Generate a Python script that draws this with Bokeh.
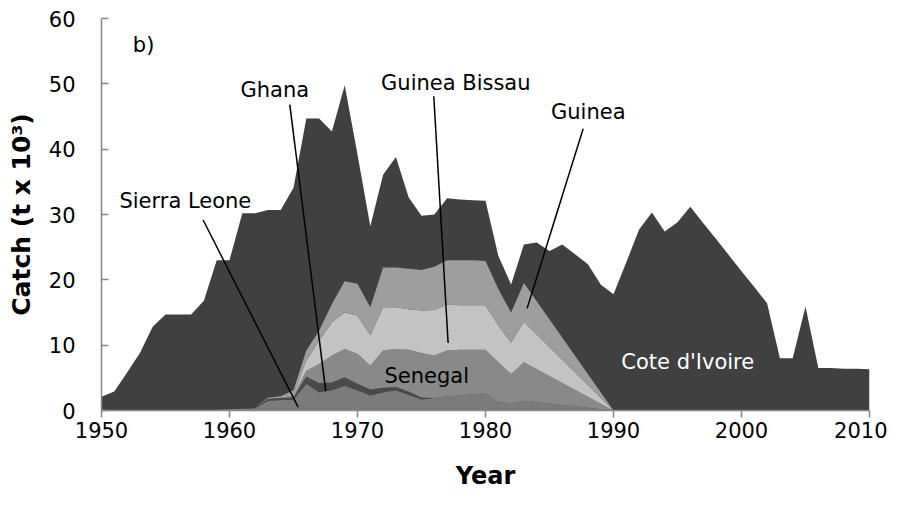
from bokeh.plotting import figure
from bokeh.models import Label, Range1d, FixedTicker
from bokeh.embed import file_html
from bokeh.resources import INLINE

# ---- data (catch, t x 10^3) ----
years = list(range(1950, 2011))
total_catch = [2.1, 2.9, 5.8, 8.8, 12.8, 14.7, 14.7, 14.7, 16.8, 23.0,
               23.0, 30.2, 30.2, 30.7, 30.7, 34.1, 44.7, 44.7, 42.7, 49.8,
               39.2, 28.2, 36.1, 38.8, 32.6, 29.8, 30.0, 32.5, 32.3, 32.2,
               32.1, 23.7, 19.3, 25.4, 25.7, 24.4, 25.4, 23.9, 22.4, 19.3,
               17.8, 22.7, 27.7, 30.3, 27.4, 28.8, 31.2, 28.7, 26.3, 23.8,
               21.3, 18.9, 16.4, 8.0, 8.0, 15.9, 6.5, 6.5, 6.4, 6.4, 6.3]

years_other = [1959, 1960, 1961, 1962, 1963, 1964, 1965, 1966, 1967, 1968,
               1969, 1970, 1971, 1972, 1973, 1974, 1975, 1976, 1977, 1978,
               1979, 1980, 1981, 1982, 1983, 1990]
sierra_leone = [0.1, 0.2, 0.25, 0.35, 1.5, 1.6, 1.7, 4.1, 2.8, 3.1,
                3.8, 3.1, 2.3, 2.8, 3.1, 2.4, 1.7, 1.9, 2.2, 2.3,
                2.5, 2.6, 1.3, 1.1, 1.5, 0.0]
ghana = [0.0, 0.0, 0.0, 0.15, 0.3, 0.3, 0.3, 1.1, 1.4, 1.2,
         1.3, 1.0, 0.9, 0.7, 0.5, 0.5, 0.3, 0.0, 0.0, 0.0,
         0.0, 0.0, 0.0, 0.0, 0.0, 0.0]
senegal = [0.0, 0.0, 0.0, 0.0, 0.05, 0.1, 0.3, 0.9, 2.9, 4.1,
           4.3, 4.6, 3.7, 5.7, 5.8, 6.4, 6.8, 6.5, 7.0, 7.0,
           6.8, 6.7, 6.1, 4.5, 5.9, 0.0]
guinea_bissau = [0.0, 0.0, 0.0, 0.0, 0.05, 0.1, 0.2, 1.5, 3.6, 5.1,
                 5.6, 5.8, 4.6, 6.6, 6.4, 6.2, 6.5, 7.0, 7.0, 6.8,
                 6.8, 6.8, 5.6, 4.8, 6.2, 0.0]
guinea = [0.0, 0.0, 0.0, 0.0, 0.05, 0.1, 0.6, 1.6, 1.5, 2.8,
          4.8, 4.9, 4.3, 6.1, 6.1, 6.2, 6.2, 6.6, 6.8, 6.9,
          6.9, 6.8, 5.6, 4.6, 5.9, 0.0]

x_ticks = [1950, 1960, 1970, 1980, 1990, 2000, 2010]
y_ticks = [0, 10, 20, 30, 40, 50, 60]

FONT = "DejaVu Sans"
AXIS_GREY = "#868686"

p = figure(width=887, height=492, output_backend="svg", toolbar_location=None,
           x_range=Range1d(1950, 2010), y_range=Range1d(0, 60),
           min_border_left=101, min_border_right=18, min_border_top=18,
           min_border_bottom=81)
p.outline_line_color = None
p.xgrid.visible = False
p.ygrid.visible = False
p.background_fill_color = "white"

# Cote d'Ivoire: dark total area, smaller countries stacked on top from 0
p.varea(x=years, y1=[0] * len(years), y2=total_catch, fill_color="#404040")

src = dict(x=years_other, sl=sierra_leone, gh=ghana, se=senegal,
           gb=guinea_bissau, gu=guinea)
p.varea_stack(["sl", "gh", "se", "gb", "gu"], x="x", source=src,
              color=["#7b7b7b", "#4a4a4a", "#898989", "#c3c3c3", "#9e9e9e"])

# leader lines
leaders = [
    ([1957.94, 1965.36], [29.16, 0.52]),
    ([1964.71, 1967.52], [46.83, 2.96]),
    ([1975.96, 1977.08], [48.09, 10.34]),
    ([1987.63, 1983.25], [43.11, 15.63]),
]
for lx, ly in leaders:
    p.line(lx, ly, line_color="black", line_width=1.5)

labels = [
    ("b)", 1952.45, 56.0, "left", "black"),
    ("Ghana", 1963.54, 49.1, "center", "black"),
    ("Sierra Leone", 1956.55, 32.1, "center", "black"),
    ("Guinea Bissau", 1977.68, 50.1, "center", "black"),
    ("Guinea", 1988.03, 45.76, "center", "black"),
    ("Senegal", 1975.41, 5.3, "center", "black"),
    ("Cote d'Ivoire", 1995.8, 7.44, "center", "white"),
]
for txt, lx, ly, al, col in labels:
    p.add_layout(Label(x=lx, y=ly, text=txt, text_align=al,
                       text_baseline="middle", text_font=FONT,
                       text_font_size="21px", text_color=col))

# axes
p.xaxis.ticker = FixedTicker(ticks=x_ticks)
p.yaxis.ticker = FixedTicker(ticks=y_ticks)
for ax in (p.xaxis, p.yaxis):
    ax.axis_line_color = AXIS_GREY
    ax.axis_line_width = 1.5
    ax.major_tick_line_color = AXIS_GREY
    ax.major_tick_line_width = 1.5
    ax.minor_tick_line_color = None
    ax.major_label_text_font = FONT
    ax.major_label_text_font_size = "21px"
    ax.major_label_text_color = "black"
    ax.axis_label_text_font = FONT
    ax.axis_label_text_font_style = "bold"
    ax.axis_label_text_color = "black"

p.xaxis.major_tick_out = 7
p.xaxis.major_tick_in = 0
p.xaxis.major_label_standoff = 4
p.xaxis.axis_label = "Year"
p.xaxis.axis_label_text_font_size = "24px"
p.xaxis.axis_label_standoff = 21

p.yaxis.major_tick_out = 0
p.yaxis.major_tick_in = 7
p.yaxis.major_label_standoff = 26
p.yaxis.axis_label = "Catch (t x 10³)"
p.yaxis.axis_label_text_font_size = "25px"
p.yaxis.axis_label_standoff = 10

open("out.html", "w").write(file_html(p, INLINE))
